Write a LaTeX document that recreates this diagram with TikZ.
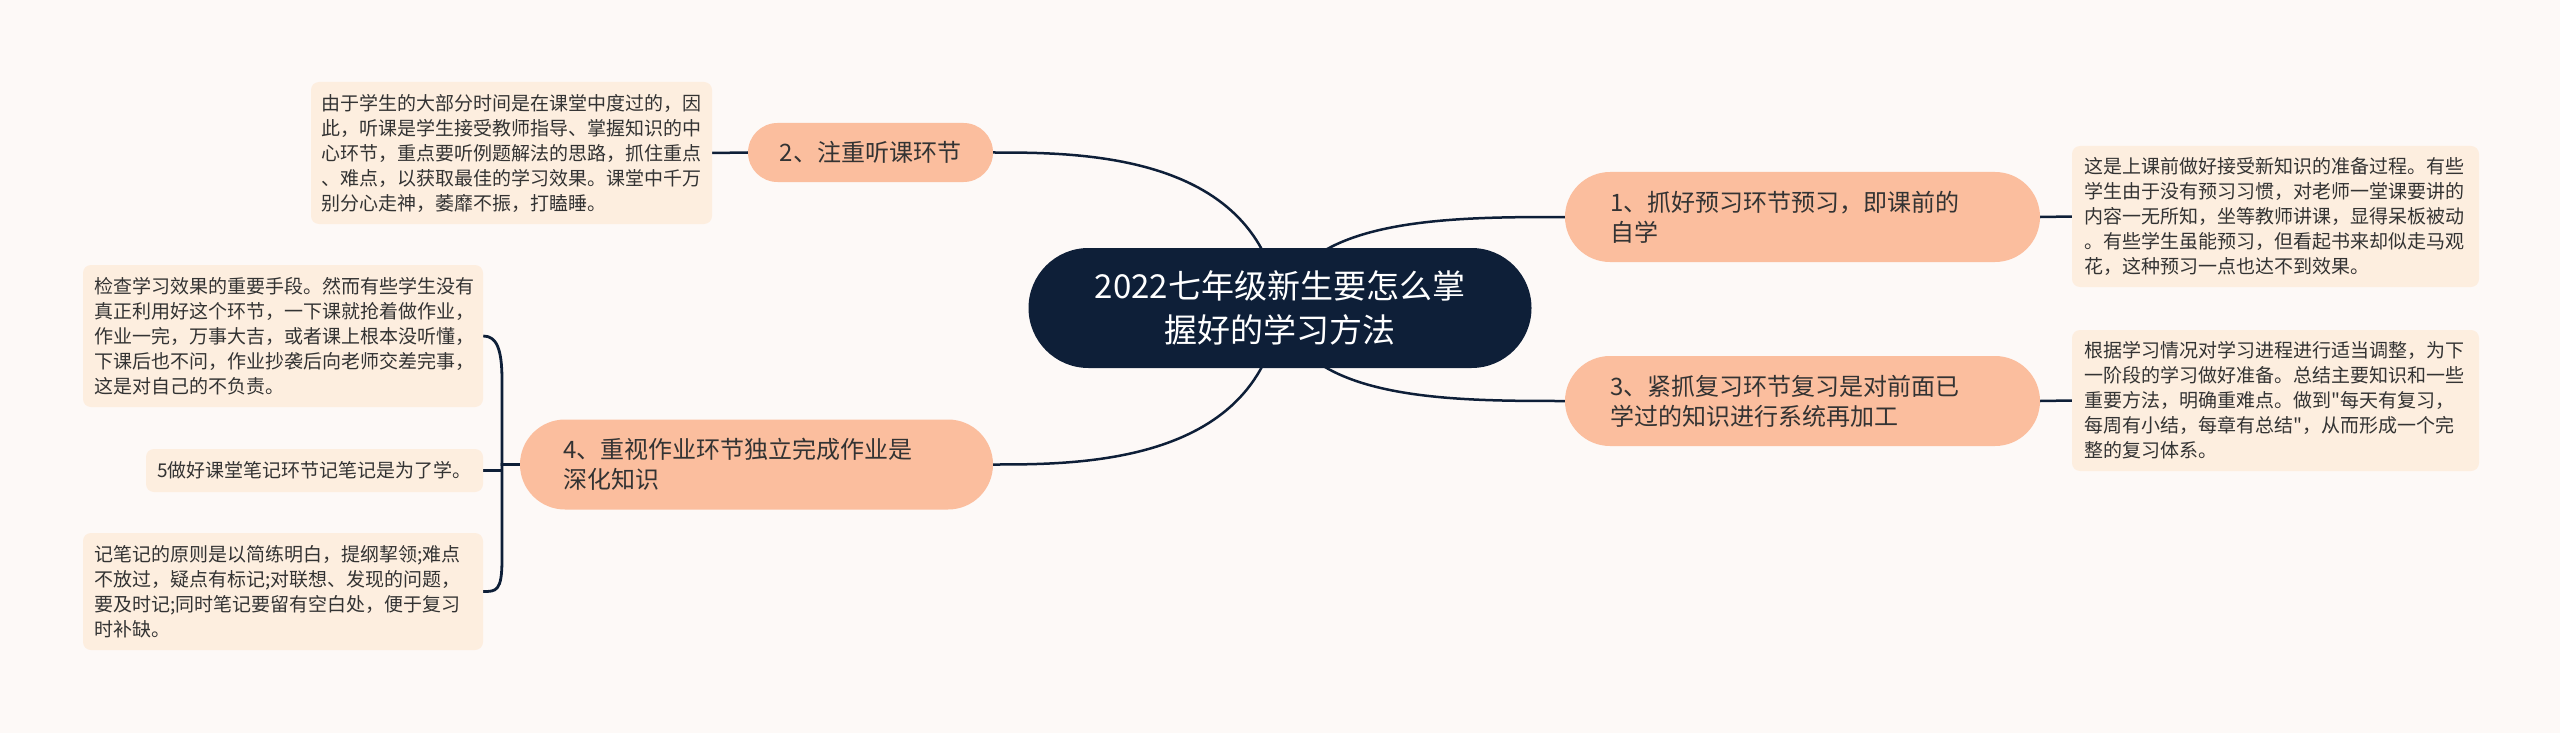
\documentclass[tikz,border=0pt]{standalone}
\usepackage{fontspec}
\setmainfont[Ligatures=TeXOff]{Noto Sans CJK SC}
\usetikzlibrary{backgrounds}
\definecolor{bgc}{HTML}{FDF9F7}
\definecolor{navy}{HTML}{0E1F38}
\definecolor{branchc}{HTML}{FBBE9E}
\definecolor{leafc}{HTML}{FDEEDF}
\definecolor{txt}{HTML}{333333}
\begin{document}
\begin{tikzpicture}[x=1pt,y=-1pt,
  centralbox/.style={fill=navy, text=white, rounded corners=60pt, minimum width=503pt, minimum height=120pt, inner sep=0pt, align=center, font=\fontsize{33}{44}\selectfont},
  branchbox/.style={fill=branchc, text=txt, inner sep=0pt, font=\fontsize{24}{30}\selectfont},
  leafbox/.style={fill=leafc, text=txt, rounded corners=8pt, inner sep=0pt, align=left, font=\fontsize{19}{25}\selectfont},
  link/.style={draw=navy, line width=2.5pt},
  bracketlink/.style={draw=navy, line width=2.8pt},
  ]
\useasboundingbox (0,0) rectangle (2560,733);

\node[centralbox] (c) at (1280,308) {2022七年级新生要怎么掌\\握好的学习方法};

\node[branchbox, rounded corners=29.5pt, minimum width=245pt, minimum height=59pt, align=center] (n2) at (870.5,152.5) {2、注重听课环节};
\node[branchbox, rounded corners=45pt, minimum width=475pt, minimum height=90pt, text width=384pt, align=left] (n1) at (1802.5,217) {1、抓好预习环节预习，即课前的\\自学};
\node[branchbox, rounded corners=45pt, minimum width=475pt, minimum height=90pt, text width=384pt, align=left] (n3) at (1802.5,401) {3、紧抓复习环节复习是对前面已\\学过的知识进行系统再加工};
\node[branchbox, rounded corners=45pt, minimum width=473pt, minimum height=90pt, text width=386pt, align=left] (n4) at (756.5,464.5) {4、重视作业环节独立完成作业是\\深化知识};

\node[leafbox, minimum width=401pt, minimum height=142pt, text width=380pt] (l2) at (511.5,153) {由于学生的大部分时间是在课堂中度过的，因\\此，听课是学生接受教师指导、掌握知识的中\\心环节，重点要听例题解法的思路，抓住重点\\、难点，以获取最佳的学习效果。课堂中千万\\别分心走神，萎靡不振，打瞌睡。};
\node[leafbox, minimum width=407pt, minimum height=141pt, text width=383pt] (l1) at (2275.5,216.5) {这是上课前做好接受新知识的准备过程。有些\\学生由于没有预习习惯，对老师一堂课要讲的\\内容一无所知，坐等教师讲课，显得呆板被动\\。有些学生虽能预习，但看起书来却似走马观\\花，这种预习一点也达不到效果。};
\node[leafbox, minimum width=407pt, minimum height=141pt, text width=383pt] (l3) at (2275.5,400.5) {根据学习情况对学习进程进行适当调整，为下\\一阶段的学习做好准备。总结主要知识和一些\\重要方法，明确重难点。做到"每天有复习，\\每周有小结，每章有总结"，从而形成一个完\\整的复习体系。};
\node[leafbox, minimum width=400pt, minimum height=142pt, text width=378pt] (l4a) at (283,336) {检查学习效果的重要手段。然而有些学生没有\\真正利用好这个环节，一下课就抢着做作业，\\作业一完，万事大吉，或者课上根本没听懂，\\下课后也不问，作业抄袭后向老师交差完事，\\这是对自己的不负责。};
\node[leafbox, minimum width=337pt, minimum height=43pt] (l4b) at (314.5,470.5) {5做好课堂笔记环节记笔记是为了学。};
\node[leafbox, minimum width=400pt, minimum height=117pt, text width=378pt] (l4c) at (283,591.5) {记笔记的原则是以简练明白，提纲挈领;难点\\不放过，疑点有标记;对联想、发现的问题，\\要及时记;同时笔记要留有空白处，便于复习\\时补缺。};

\coordinate (bk) at (502,464.5);

\begin{scope}[on background layer]
  \fill[bgc] (0,0) rectangle (2560,733);
  \draw[link] (c.center) .. controls (1260,152.5) and (1080,152.5) .. (n2.east);
  \draw[link] (c.center) .. controls (1260,464.5) and (1080,464.5) .. (n4.east);
  \draw[link] (c.center) .. controls (1300,217) and (1450,217) .. (n1.west);
  \draw[link] (c.center) .. controls (1300,401) and (1450,401) .. (n3.west);
  \draw[link] (n2.west) -- (l2.east);
  \draw[link] (n1.east) -- (l1.west);
  \draw[link] (n3.east) -- (l3.west);
  \draw[bracketlink] (n4.west) -- (bk) -- ++(0,-84.5) .. controls +(0,-32) and +(13,0) .. (l4a.east);
  \draw[bracketlink] (n4.west) -- (bk) |- (l4b.east);
  \draw[bracketlink] (n4.west) -- (bk) -- ++(0,95) .. controls +(0,32) and +(13,0) .. (l4c.east);
\end{scope}
\end{tikzpicture}
\end{document}
